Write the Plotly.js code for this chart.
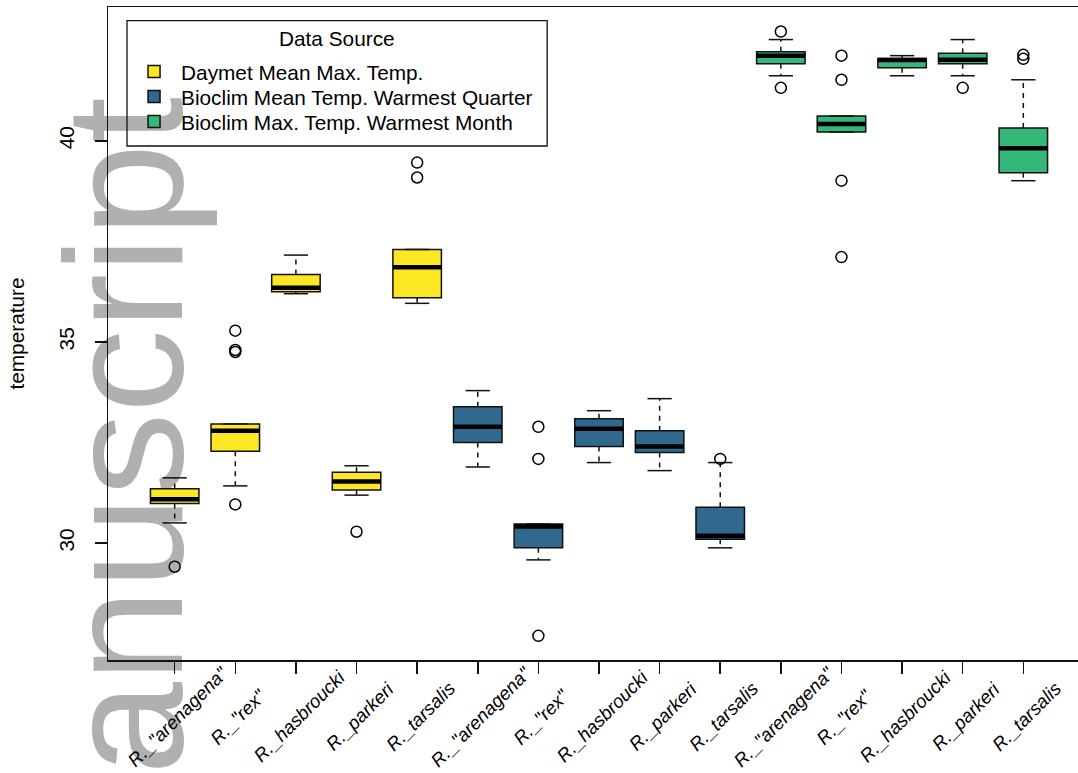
<!DOCTYPE html>
<html>
<head>
<meta charset="utf-8">
<script src="https://cdn.plot.ly/plotly-3.0.1.min.js"></script>
<style>
  html, body { margin: 0; padding: 0; overflow: hidden; background: #ffffff; }
  #chart { width: 1100px; height: 773px; }
</style>
</head>
<body>
<div id="chart"></div>
<script>
// Species on the x axis (repeated for each data source)
const species = ['R._"arenagena"', 'R._"rex"', 'R._hasbroucki', 'R._parkeri', 'R._tarsalis'];
const sourceNames = ['Daymet Mean Max. Temp.', 'Bioclim Mean Temp. Warmest Quarter', 'Bioclim Max. Temp. Warmest Month'];
const sourceColors = ['#FDE725', '#31688E', '#35B779'];
const legendTitle = 'Data Source';

// Daymet mean maximum temperature
const daymetLower  = [30.50, 31.42, 36.20, 31.19, 35.96];
const daymetQ1     = [30.98, 32.28, 36.25, 31.32, 36.10];
const daymetMedian = [31.09, 32.79, 36.35, 31.53, 36.86];
const daymetQ3     = [31.35, 32.96, 36.68, 31.76, 37.30];
const daymetUpper  = [31.62, 32.96, 37.16, 31.92, 37.30];
const daymetOutliers = [[29.41], [35.28, 34.80, 34.75, 30.96], [], [30.28], [39.46, 39.09]];

// Bioclim mean temperature of the warmest quarter
const quarterLower  = [31.89, 29.58, 32.00, 31.80, 29.88];
const quarterQ1     = [32.50, 29.88, 32.40, 32.25, 30.09];
const quarterMedian = [32.89, 30.41, 32.84, 32.40, 30.18];
const quarterQ3     = [33.39, 30.47, 33.09, 32.79, 30.89];
const quarterUpper  = [33.79, 30.47, 33.29, 33.59, 32.00];
const quarterOutliers = [[], [32.89, 32.09, 27.69], [], [], [32.09]];

// Bioclim maximum temperature of the warmest month
const monthLower  = [41.62, 40.22, 41.62, 41.62, 39.01];
const monthQ1     = [41.92, 40.22, 41.82, 41.92, 39.21];
const monthMedian = [42.12, 40.42, 42.01, 42.02, 39.82];
const monthQ3     = [42.22, 40.62, 42.05, 42.18, 40.32];
const monthUpper  = [42.52, 40.62, 42.12, 42.52, 41.52];
const monthOutliers = [[42.72, 41.32], [42.12, 41.52, 39.01, 37.11], [], [41.32], [42.14, 42.04]];

const yTicks = [30, 35, 40];

const FONT = 'Liberation Sans, Arial, Helvetica, sans-serif';
const INK = '#111111';

const groups = [
  { lo: daymetLower,  q1: daymetQ1,  med: daymetMedian,  q3: daymetQ3,  hi: daymetUpper,  out: daymetOutliers },
  { lo: quarterLower, q1: quarterQ1, med: quarterMedian, q3: quarterQ3, hi: quarterUpper, out: quarterOutliers },
  { lo: monthLower,   q1: monthQ1,   med: monthMedian,   q3: monthQ3,   hi: monthUpper,   out: monthOutliers }
];

// One legend per source so the entries sit on a tight, even pitch inside one frame
const legendIds = ['legend', 'legend2', 'legend3'];
const legendTops = [0.9319, 0.8936, 0.8553];

const boxTraces = [];
const overlayTraces = [];
const positions = [];
const labels = [];

groups.forEach((g, gi) => {
  const xs = species.map((_, i) => gi * species.length + i + 1);
  xs.forEach((x, i) => { positions.push(x); labels.push(species[i]); });

  // Box body (hinges only; whiskers are drawn dashed below)
  boxTraces.push({
    type: 'box',
    name: sourceNames[gi],
    legend: legendIds[gi],
    x: xs,
    q1: g.q1, median: g.med, q3: g.q3,
    lowerfence: g.q1, upperfence: g.q3,
    width: 0.8,
    whiskerwidth: 0,
    fillcolor: sourceColors[gi],
    line: { color: INK, width: 1.5 },
    boxpoints: false,
    hoverinfo: 'skip'
  });

  const wx = [], wy = [], cx = [], cy = [], mx = [], my = [], ox = [], oy = [];
  xs.forEach((x, i) => {
    wx.push(x, x, null, x, x, null);
    wy.push(g.q3[i], g.hi[i], null, g.q1[i], g.lo[i], null);
    cx.push(x - 0.2, x + 0.2, null, x - 0.2, x + 0.2, null);
    cy.push(g.hi[i], g.hi[i], null, g.lo[i], g.lo[i], null);
    mx.push(x - 0.4, x + 0.4, null);
    my.push(g.med[i], g.med[i], null);
    g.out[i].forEach(v => { ox.push(x); oy.push(v); });
  });

  overlayTraces.push(
    { type: 'scatter', mode: 'lines', x: wx, y: wy, showlegend: false, hoverinfo: 'skip',
      line: { color: INK, width: 1.5, dash: '5px,5px' } },
    { type: 'scatter', mode: 'lines', x: cx, y: cy, showlegend: false, hoverinfo: 'skip',
      line: { color: INK, width: 1.5 } },
    { type: 'scatter', mode: 'lines', x: mx, y: my, showlegend: false, hoverinfo: 'skip',
      line: { color: '#000000', width: 4.5 } },
    { type: 'scatter', mode: 'markers', x: ox, y: oy, showlegend: false, hoverinfo: 'skip',
      marker: { symbol: 'circle-open', size: 11, color: '#000000', line: { width: 1.5, color: '#000000' } } }
  );
});

const speciesAnnotations = positions.map((x, k) => ({
  xref: 'x', yref: 'paper', x: x, y: 0, yshift: -56, xshift: 3,
  text: labels[k], textangle: -45, showarrow: false,
  xanchor: 'center', yanchor: 'middle',
  font: { family: FONT, size: 18.7, color: '#000000', style: 'italic' }
}));

const legendTitleAnnotation = {
  xref: 'paper', yref: 'paper', x: 0.2333, y: 0.951,
  xanchor: 'center', yanchor: 'middle', showarrow: false,
  text: legendTitle, font: { family: FONT, size: 20.8, color: '#000000' }
};

function legendBox(top) {
  return {
    x: 0.0194, y: top, xanchor: 'left', yanchor: 'top',
    bgcolor: 'rgba(0,0,0,0)', borderwidth: 0,
    font: { size: 20.8, color: '#000000' },
    itemwidth: 44, traceorder: 'normal'
  };
}

const layout = {
  width: 1100, height: 773,
  margin: { l: 108, r: 10, t: 7, b: 113 },
  paper_bgcolor: '#ffffff',
  plot_bgcolor: 'rgba(0,0,0,0)',
  font: { family: FONT, size: 20.8, color: '#000000' },
  boxmode: 'overlay',
  showlegend: true,
  xaxis: {
    range: [-0.1, 16.1],
    tickmode: 'array', tickvals: positions, showticklabels: false,
    ticks: 'outside', ticklen: 12, tickwidth: 1.5, tickcolor: INK,
    showline: true, mirror: true, linecolor: INK, linewidth: 1.5,
    showgrid: false, zeroline: false
  },
  yaxis: {
    range: [27.09, 43.33],
    tickmode: 'array', tickvals: yTicks, ticktext: yTicks.map(String),
    tickangle: -90, ticklabelstandoff: 12,
    ticks: 'outside', ticklen: 12, tickwidth: 1.5, tickcolor: INK,
    tickfont: { size: 20.8 },
    showline: true, mirror: true, linecolor: INK, linewidth: 1.5,
    showgrid: false, zeroline: false,
    title: { text: 'temperature', font: { size: 20.8 }, standoff: 25 }
  },
  legend: legendBox(legendTops[0]),
  legend2: legendBox(legendTops[1]),
  legend3: legendBox(legendTops[2]),
  annotations: speciesAnnotations.concat([legendTitleAnnotation]),
  shapes: [
    {
      type: 'rect', xref: 'paper', yref: 'paper',
      x0: -0.01, x1: 0.01, y0: 0.333, y1: 0.353,
      layer: 'below', line: { width: 0 }, fillcolor: 'rgba(0,0,0,0)',
      label: {
        text: 'anuscript', textangle: -90, textposition: 'middle center',
        font: { family: FONT, size: 167, color: '#b0b0b0' }
      }
    },
    {
      // legend frame
      type: 'rect', xref: 'paper', yref: 'paper',
      x0: 0.01935, x1: 0.4472, y0: 0.7871, y1: 0.979,
      layer: 'above', line: { color: INK, width: 1.3 }, fillcolor: 'rgba(0,0,0,0)'
    }
  ]
};

Plotly.newPlot('chart', boxTraces.concat(overlayTraces), layout, { staticPlot: true, displayModeBar: false });
</script>
</body>
</html>
